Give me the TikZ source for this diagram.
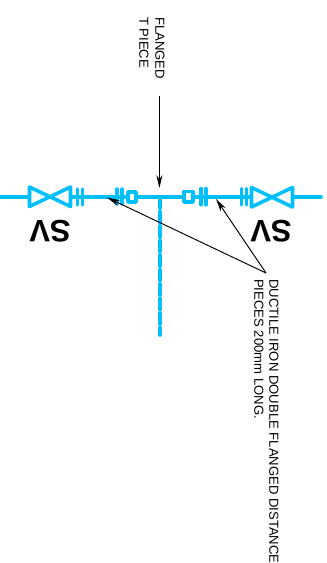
\documentclass[tikz,border=0pt]{standalone}
\usepackage{fontspec}
\setmainfont{Liberation Sans}
\usetikzlibrary{arrows.meta}
\definecolor{pipe}{RGB}{0,191,255}
\tikzset{
  pipeline/.style={draw=pipe,line width=3.6pt,line cap=round,line join=round},
  branchline/.style={pipeline,line cap=round,dash pattern=on 11pt off 3.5pt},
  flangebar/.style={draw=pipe,line width=3.3pt,line cap=round},
  spigot/.style={draw=pipe,line width=3.6pt,fill=white,line join=round},
  leader/.style={draw=black,line width=0.95pt,-{Stealth[length=13pt,width=6pt]}},
  note/.style={rotate=-90,anchor=west,inner sep=0pt,font=\fontsize{13.1pt}{15pt}\selectfont},
  tag/.style={rotate=180,inner sep=0pt,font=\fontsize{31pt}{32pt}\selectfont\bfseries}
}
\begin{document}
\begin{tikzpicture}[x=1pt,y=-1pt]
\useasboundingbox (0,0) rectangle (327,563);
% pipe run
\coordinate (west) at (0,197);
\coordinate (east) at (321,197);
\coordinate (tee) at (160,197);
\coordinate (branchend) at (160,335);
\coordinate (leaderfoot) at (266,273);
\coordinate (teetail) at (159.4,96);
\coordinate (teetip) at (159.4,188);
\coordinate (tipL) at (107,197.5);
\coordinate (tipR) at (216,199);
\draw[pipeline] (west) -- (east);
\draw[branchline] (tee) -- (branchend);
% valves
\draw[spigot] (29.5,187) -- (70.5,206.5) -- (70.5,187) -- (29.5,206.5) -- cycle;
\draw[spigot] (251.5,187.5) -- (292.5,207) -- (292.5,187.5) -- (251.5,207) -- cycle;
% flanges
\draw[flangebar] (77.5,189) -- (77.5,205);
\draw[flangebar] (82.5,189) -- (82.5,205);
\draw[flangebar] (117,189) -- (117,204);
\draw[flangebar] (122,189) -- (122,204);
\draw[flangebar] (201,188.5) -- (201,205);
\draw[flangebar] (206,188.5) -- (206,205);
\draw[flangebar] (241.5,188.5) -- (241.5,205);
\draw[flangebar] (246.5,188.5) -- (246.5,205);
% spigot boxes
\draw[spigot] (128,192) rectangle (136,202);
\draw[spigot] (184,191.5) rectangle (193,202);
% leaders
\draw[leader] (teetail) -- (teetip);
\draw[leader] (leaderfoot) -- (tipL);
\draw[leader] (leaderfoot) -- (tipR);
% labels
\node[tag] (svL) at (50,231) {SV};
\node[tag] (svR) at (271,231) {SV};
\node[note] (fl) at (160,17) {FLANGED};
\node[note] (tp) at (144,17) {T PIECE};
\node[note] (di) at (274,279) {DUCTILE IRON DOUBLE FLANGED DISTANCE};
\node[note] (pc) at (259,279) {PIECES 200mm LONG.};
\end{tikzpicture}
\end{document}
